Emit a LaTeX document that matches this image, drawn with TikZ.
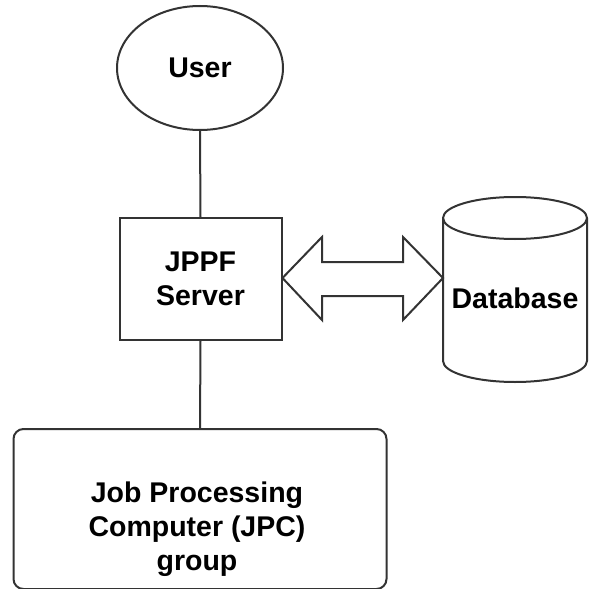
\documentclass[tikz,border=0pt]{standalone}
\usepackage{fontspec}
\setmainfont{Liberation Sans}
\usetikzlibrary{shapes.geometric}
\definecolor{ln}{HTML}{333333}
\begin{document}
\begin{tikzpicture}[x=1pt,y=-1pt,
  every node/.style={font=\fontsize{28.5}{34}\selectfont\bfseries, text=black},
  shp/.style={draw=ln, line width=2pt, fill=white},
  conn/.style={draw=ln, line width=2pt}]
\useasboundingbox (0,0) rectangle (590,589);
% User
\node[shp, ellipse, minimum width=166pt, minimum height=124pt, inner sep=0pt] (user) at (200,68) {User};
% JPPF Server
\node[shp, rectangle, minimum width=162pt, minimum height=122pt, inner sep=0pt, align=center] (srv) at (200.5,279) {JPPF\\Server};
% JPC group
\node[shp, rectangle, rounded corners=10pt, minimum width=373pt, minimum height=160pt, inner sep=0pt, align=center] (jpc) at (200,509) {};
\node[align=center] (jpctext) at (197,529) {Job Processing\\Computer (JPC)\\group};
% Database cylinder
\path[shp] (443,218) -- (443,361) arc[start angle=180, end angle=360, x radius=72pt, y radius=21pt]
  -- (587,218) arc[start angle=0, end angle=180, x radius=72pt, y radius=21pt] -- cycle;
\draw[ln, line width=2pt] (443,218) arc[start angle=180, end angle=0, x radius=72pt, y radius=-21pt];
\node (db) at (515,298) {Database};
\coordinate (dbw) at (443,278);
% connectors
\draw[conn] (user.south) -- (srv.north);
\draw[conn] (srv.south) -- (jpc.north);
% double arrow
\draw[shp, line join=miter] (srv.east |- 0,278) -- (322,237) -- (322,262) -- (403,262) -- (403,237) -- (dbw)
  -- (403,320) -- (403,296) -- (322,296) -- (322,320) -- cycle;
\end{tikzpicture}
\end{document}
